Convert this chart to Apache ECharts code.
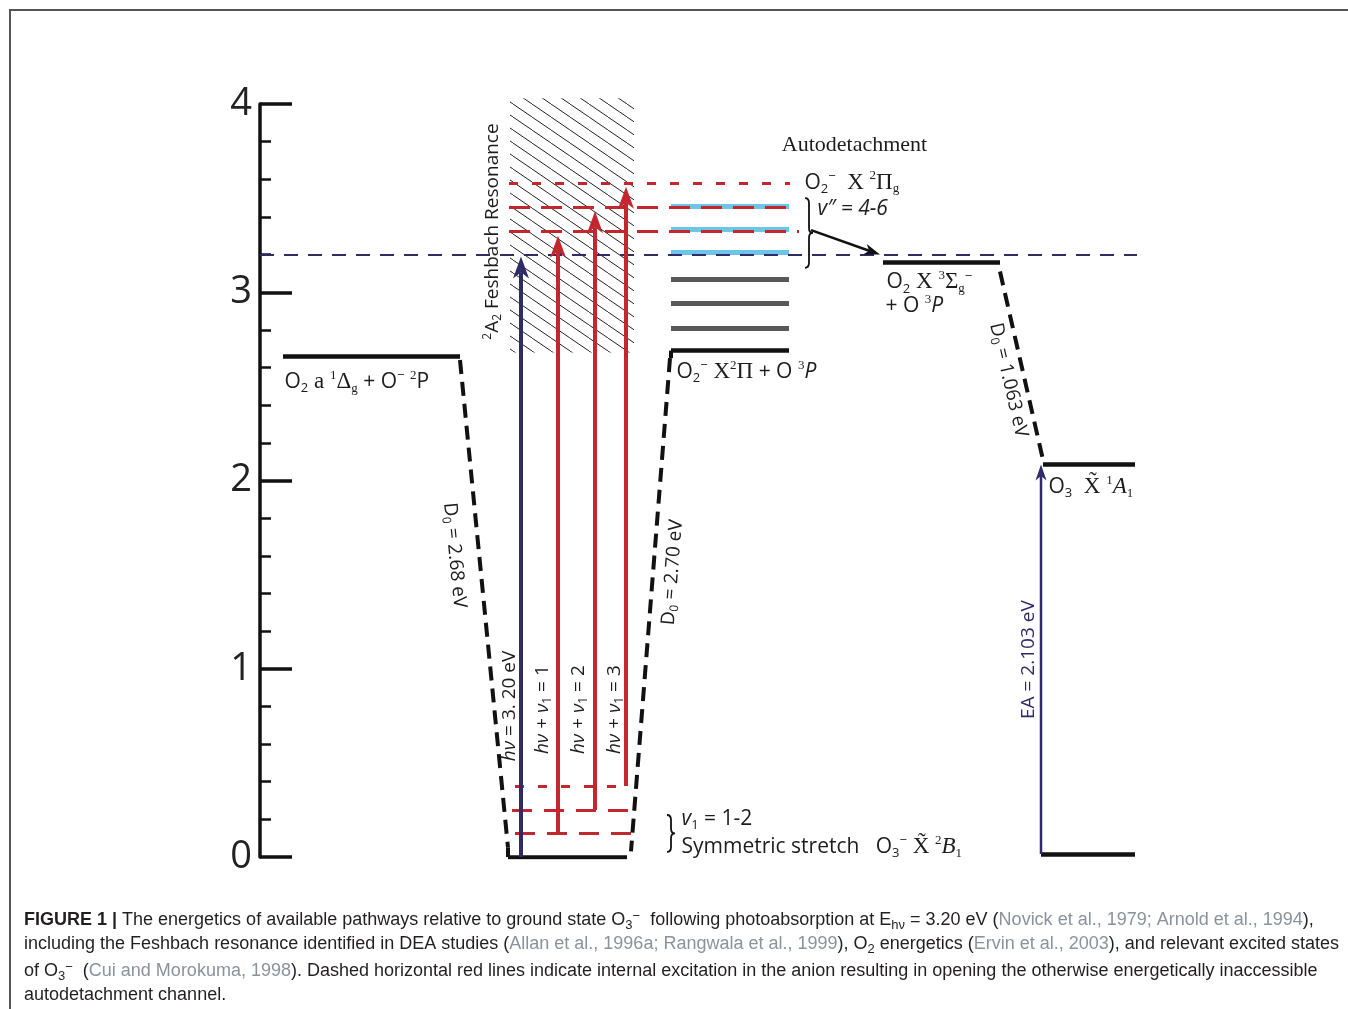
<!DOCTYPE html>
<html>
<head>
<meta charset="utf-8">
<script src="https://cdn.jsdelivr.net/npm/echarts@6/dist/echarts.min.js"></script>
<style>
html, body { margin: 0; padding: 0; background: #fff; }
#chart { width: 1348px; height: 1009px; }
</style>
</head>
<body>
<div id="chart"></div>
<script>
// ---- data (energies in eV, x = position along the diagram) ----
var yTicks = [0, 1, 2, 3, 4];
var hvLine = [[260, 1137, 3.20]];                 // photon energy
// horizontal states [xStart, xEnd, E]
var stateLevels = [
    [283, 460, 2.66],     // O2 a1Δg + O- 2P
    [508, 627, 0],        // O3- ground
    [671, 789, 2.69],     // O2- X2Π + O 3P
    [883, 1000, 3.16],    // O2 X3Σg- + O 3P
    [1043, 1135, 2.085],  // O3 X1A1
    [1041, 1135, 0.016]   // O3 reference
];
var stubs = [[508, 0, 0.05], [671, 2.69, 2.65]];   // [x, E0, E1]
var grayLevels = [[671, 789, 2.81], [671, 789, 2.943], [671, 789, 3.07]];
var blueLevels = [[671, 789, 3.214], [671, 789, 3.336], [671, 789, 3.458]];
var redUpperShort = [[509, 790, 3.577]];
var redUpperLong = [[509, 797, 3.453], [509, 799, 3.325]];
var redLowerShort = [[515, 626, 0.377]];
var redLowerLong = [[512, 628, 0.25], [515, 633, 0.127]];
// dashed dissociation connectors [x0, E0, x1, E1]
var connectors = [[460, 2.64, 508, 0.05], [670, 2.65, 631, 0.03], [1000, 3.11, 1043, 2.11]];
// arrows [x0, E0, x1, E1]
var navyArrows = [[521, 0, 521, 3.19]];
var redArrows = [[558, 0.127, 558, 3.30], [595, 0.25, 595, 3.43], [626, 0.377, 626, 3.56]];
var eaArrow = [[1041, 0.016, 1041, 2.085]];
var autoArrow = [[811, 3.33, 880, 3.20]];
var hatchBox = [[510, 634, 2.68, 4.03]];          // Feshbach resonance
var braces = [[805, 3.50, 3.13], [667, 0.223, 0.027]]; // [x, Etop, Ebottom]

var FS = 'Open Sans', FF = 'Liberation Serif';
var INK = '#1d1d1d';
var rich = {
    t: { fontFamily: FS, fontSize: 21, color: INK },
    ti: { fontFamily: FS, fontSize: 21, fontStyle: 'italic', color: INK },
    f: { fontFamily: FF, fontSize: 23, color: INK },
    fi: { fontFamily: FF, fontSize: 23, fontStyle: 'italic', color: INK },
    s: { fontFamily: FS, fontSize: 13, color: INK, padding: [13, 0, 0, 0] },
    fs: { fontFamily: FF, fontSize: 13, color: INK, padding: [13, 0, 0, 0] },
    p: { fontFamily: FS, fontSize: 13, color: INK, padding: [0, 0, 13, 0] },
    fp: { fontFamily: FF, fontSize: 13, color: INK, padding: [0, 0, 13, 0] },
    h: { fontFamily: FS, fontSize: 26, color: INK },
    fa: { fontFamily: FF, fontSize: 22, color: INK },
    r: { fontFamily: FS, fontSize: 19, color: INK },
    ri: { fontFamily: FS, fontSize: 19, fontStyle: 'italic', color: INK },
    rs: { fontFamily: FS, fontSize: 12, color: INK, padding: [10, 0, 0, 0] },
    rp: { fontFamily: FS, fontSize: 12, color: INK, padding: [0, 0, 10, 0] },
    n: { fontFamily: FS, fontSize: 19, color: '#2e2b67' }
};

function segs(list) {
    return list.map(function (d) { return { coords: [[d[0], d[2]], [d[1], d[2]]] }; });
}

function lineSeries(list, color, width, dash) {
    return {
        type: 'lines', coordinateSystem: 'cartesian2d', silent: true,
        data: list, lineStyle: { color: color, width: width, type: dash || 'solid', opacity: 1 }
    };
}

function arrowSeries(list, color, lw, hw, hl) {
    return {
        type: 'custom', data: list, silent: true, clip: false,
        renderItem: function (params, api) {
            var a = api.coord([api.value(0), api.value(1)]);
            var b = api.coord([api.value(2), api.value(3)]);
            var dx = b[0] - a[0], dy = b[1] - a[1];
            var len = Math.sqrt(dx * dx + dy * dy);
            var ux = dx / len, uy = dy / len, nx = -uy, ny = ux;
            var bx = b[0] - ux * hl, by = b[1] - uy * hl;
            var mx = b[0] - ux * hl * 0.72, my = b[1] - uy * hl * 0.72;
            return {
                type: 'group', children: [
                    { type: 'line', shape: { x1: a[0], y1: a[1], x2: mx, y2: my }, style: { stroke: color, lineWidth: lw } },
                    { type: 'polygon', shape: { points: [[b[0], b[1]], [bx + nx * hw / 2, by + ny * hw / 2], [mx, my], [bx - nx * hw / 2, by - ny * hw / 2]] }, style: { fill: color } }
                ]
            };
        }
    };
}

// hatch pattern for the resonance box
function hatchPattern() {
    var w = 19, h = 13;
    var c = document.createElement('canvas');
    c.width = w; c.height = h;
    var g = c.getContext('2d');
    g.strokeStyle = '#222';
    g.lineWidth = 1;
    g.beginPath();
    g.moveTo(-2, -2 * h / w);
    g.lineTo(w + 2, h + 2 * h / w);
    g.stroke();
    return { image: c, repeat: 'repeat' };
}

function note(x, e, text, opt) {
    return {
        type: 'scatter', data: [[x, e]], symbolSize: 1, silent: true,
        itemStyle: { color: 'rgba(0,0,0,0)', opacity: 1 },
        label: Object.assign({
            show: true, position: [0, 0], formatter: text, rich: rich,
            align: 'left', verticalAlign: 'middle', opacity: 1
        }, opt || {})
    };
}

var chart = echarts.init(document.getElementById('chart'));

var series = [
    {
        type: 'custom', data: hatchBox, silent: true, clip: false,
        renderItem: function (params, api) {
            var p0 = api.coord([api.value(0), api.value(3)]);
            var p1 = api.coord([api.value(1), api.value(2)]);
            return { type: 'rect', shape: { x: p0[0], y: p0[1], width: p1[0] - p0[0], height: p1[1] - p0[1] }, style: { fill: hatchPattern() } };
        }
    },
    lineSeries(segs(grayLevels), '#58595b', 5),
    lineSeries(segs(blueLevels), '#6cc4e8', 5),
    lineSeries(segs(hvLine), '#2e2b67', 2, [14, 10]),
    lineSeries(segs(redUpperShort), '#c1272d', 3, [9, 14]),
    lineSeries(segs(redUpperLong), '#c1272d', 3, [21, 11]),
    lineSeries(segs(redLowerShort), '#c1272d', 3, [9, 14]),
    lineSeries(segs(redLowerLong), '#c1272d', 3, [20, 12]),
    lineSeries(connectors.map(function (d) { return { coords: [[d[0], d[1]], [d[2], d[3]]] }; }), '#111', 4, [14, 8]),
    lineSeries(segs(stateLevels), '#111', 4.5),
    lineSeries(stubs.map(function (d) { return { coords: [[d[0], d[1]], [d[0], d[2]]] }; }), '#111', 4),
    arrowSeries(navyArrows, '#2e2b67', 4, 16, 22),
    arrowSeries(redArrows, '#c1272d', 4, 16, 22),
    arrowSeries(eaArrow, '#2e2b67', 2.5, 11, 16),
    arrowSeries(autoArrow, '#111', 2.5, 11, 16),
    {
        type: 'custom', data: braces, silent: true, clip: false,
        renderItem: function (params, api) {
            var t = api.coord([api.value(0), api.value(1)]);
            var b = api.coord([api.value(0), api.value(2)]);
            var x0 = t[0], yt = t[1], yb = b[1], ym = (yt + yb) / 2, w = 8, r = 5;
            var xm = x0 + w / 2;
            var d = 'M' + x0 + ' ' + yt + ' Q' + xm + ' ' + yt + ' ' + xm + ' ' + (yt + r) +
                ' L' + xm + ' ' + (ym - r) + ' Q' + xm + ' ' + ym + ' ' + (x0 + w) + ' ' + ym +
                ' Q' + xm + ' ' + ym + ' ' + xm + ' ' + (ym + r) +
                ' L' + xm + ' ' + (yb - r) + ' Q' + xm + ' ' + yb + ' ' + x0 + ' ' + yb;
            return { type: 'path', shape: { pathData: d }, style: { stroke: '#111', lineWidth: 1.8, fill: null } };
        }
    },
    // titles and state labels
    note(557, 4.33, '{h|Photofragmentation}', { align: 'center' }),
    note(1017, 4.34, '{h|Photodetachment}', { align: 'center' }),
    note(855, 3.777, '{fa|Autodetachment}', { align: 'center' }),
    note(805, 3.58, '{t|O}{s|2}{p|−}{f|  X }{fp|2}{f|Π}{fs|g}'),
    note(818, 3.442, '{ti|v″ = 4-6}'),
    note(887, 3.05, '{t|O}{s|2}{f| X }{fp|3}{f|Σ}{fs|g}{p|−}'),
    note(886, 2.922, '{t|+ O }{fp|3}{ti|P}'),
    note(285, 2.52, '{t|O}{s|2}{f| a }{fp|1}{f|Δ}{fs|g}{t| + O}{p|−}{t| }{fp|2}{t|P}'),
    note(677, 2.575, '{t|O}{s|2}{p|−}{f| X}{fp|2}{f|Π}{t| + O }{fp|3}{ti|P}'),
    note(1049, 1.965, '{t|O}{s|3}{f|  X̃ }{fp|1}{fi|A}{fs|1}'),
    note(682, 0.2, '{ti|v}{s|1}{t| = 1-2}'),
    note(682, 0.05, '{t|Symmetric stretch   O}{s|3}{p|−}{f| X̃ }{fp|2}{fi|B}{fs|1}'),
    note(493, 3.32, '{rp|2}{r|A}{rs|2}{r| Feshbach Resonance}', { align: 'center', rotate: 90 }),
    note(455, 1.60, '{r|D}{rs|0}{r| = 2.68 eV}', { align: 'center', rotate: -84.4 }),
    note(673, 1.51, '{r|D}{rs|0}{r| = 2.70 eV}', { align: 'center', rotate: 85.4 }),
    note(1009, 2.53, '{r|D}{rs|0}{r| = 1.063 eV}', { align: 'center', rotate: -77 }),
    note(510, 0.80, '{ri|hν}{r| = 3. 20 eV}', { align: 'center', rotate: 90 }),
    note(543, 0.78, '{ri|hν}{r| + }{ri|ν}{rs|1}{r| = 1}', { align: 'center', rotate: 90 }),
    note(579, 0.78, '{ri|hν}{r| + }{ri|ν}{rs|1}{r| = 2}', { align: 'center', rotate: 90 }),
    note(615, 0.78, '{ri|hν}{r| + }{ri|ν}{rs|1}{r| = 3}', { align: 'center', rotate: 90 }),
    note(1029, 1.046, '{n|EA = 2.103 eV}', { align: 'center', rotate: 90 })
];

// caption (raw zrender text style, so tokens use fill)
var capRich = {
    a: { fontFamily: 'Liberation Sans', fontSize: 18, fill: '#231f20' },
    b: { fontFamily: 'Liberation Sans', fontSize: 18, fontWeight: 'bold', fill: '#231f20' },
    c: { fontFamily: 'Liberation Sans', fontSize: 18, fill: '#8a929b' },
    s: { fontFamily: 'Liberation Sans', fontSize: 13, fill: '#231f20', padding: [10, 0, 0, 0] },
    p: { fontFamily: 'Liberation Sans', fontSize: 13, fill: '#231f20', padding: [0, 0, 8, 0] }
};
var captionLines = [
    '{b|FIGURE 1 |}{a| The energetics of available pathways relative to ground state O}{s|3}{p|−}{a|  following photoabsorption at E}{s|hν}{a| = 3.20 eV (}{c|Novick et al., 1979; Arnold et al., 1994}{a|),}',
    '{a|including the Feshbach resonance identified in DEA studies (}{c|Allan et al., 1996a; Rangwala et al., 1999}{a|), O}{s|2}{a| energetics (}{c|Ervin et al., 2003}{a|), and relevant excited states}',
    '{a|of O}{s|3}{p|−}{a|  (}{c|Cui and Morokuma, 1998}{a|). Dashed horizontal red lines indicate internal excitation in the anion resulting in opening the otherwise energetically inaccessible}',
    '{a|autodetachment channel.}'
];
var captionY = [920, 945, 971, 996];

var graphic = [
    { type: 'polyline', shape: { points: [[10, 1009], [10, 10], [1348, 10]] }, style: { stroke: '#555', lineWidth: 2, fill: null } }
];
captionLines.forEach(function (txt, i) {
    graphic.push({
        type: 'text', left: 24, top: captionY[i] - 10,
        style: { text: txt, rich: capRich, verticalAlign: 'top' }
    });
});

chart.setOption({
    animation: false,
    grid: { left: 260, right: 200, top: 104, bottom: 152, outerBoundsMode: 'none' },
    xAxis: { type: 'value', min: 260, max: 1148, show: false },
    yAxis: {
        type: 'value', min: 0, max: 4, interval: 1,
        axisLine: { show: true, lineStyle: { color: '#111', width: 3.5 } },
        axisTick: { show: true, inside: true, length: 32, lineStyle: { color: '#111', width: 3.5 } },
        minorTick: { show: true, splitNumber: 5, length: 11, lineStyle: { color: '#111', width: 2.5 } },
        axisLabel: {
            fontSize: 38, fontFamily: FS, color: '#222', margin: 8,
            formatter: function (v) { return yTicks.indexOf(v) >= 0 ? String(v) : ''; }
        },
        splitLine: { show: false }
    },
    graphic: graphic,
    series: series
});
</script>
</body>
</html>
